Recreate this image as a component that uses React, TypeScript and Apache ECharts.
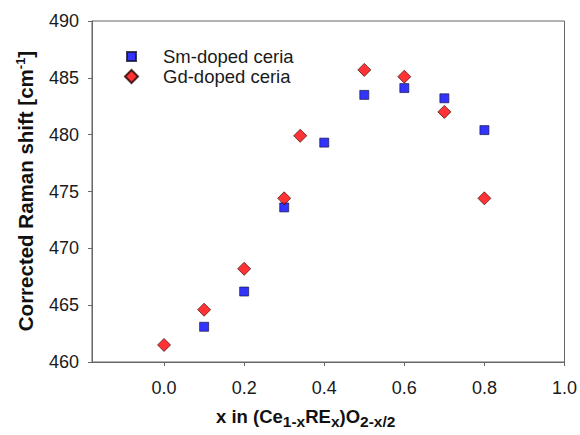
import React, { useEffect, useRef } from "react";
import * as echarts from "echarts";

const smX = [0.1, 0.2, 0.3, 0.4, 0.5, 0.6, 0.7, 0.8];
const smY = [463.1, 466.2, 473.6, 479.3, 483.5, 484.1, 483.2, 480.4];
const gdX = [0.0, 0.1, 0.2, 0.3, 0.34, 0.5, 0.6, 0.7, 0.8];
const gdY = [461.5, 464.6, 468.2, 474.4, 479.9, 485.7, 485.1, 482.0, 474.4];
const xTicks = [0, 0.2, 0.4, 0.6, 0.8, 1.0];
const seriesNames = ["Sm-doped ceria", "Gd-doped ceria"];

const FONT = "Liberation Sans, Arial, sans-serif";

export default function App() {
  const ref = useRef<HTMLDivElement>(null);
  useEffect(() => {
    if (!ref.current) return;
    const chart = echarts.init(ref.current, null, { renderer: "svg" });
    const axisColor = "#666666";
    chart.setOption({
      animation: false,
      backgroundColor: "#ffffff",
      textStyle: { fontFamily: FONT },
      grid: {
        left: 92,
        top: 21,
        right: 14,
        bottom: 73,
        show: true,
        borderColor: axisColor,
        borderWidth: 1,
      },
      legend: [
        {
          data: [seriesNames[0]],
          left: 126,
          top: 47,
          padding: 0,
          itemWidth: 9,
          itemHeight: 9,
          textStyle: { fontSize: 18.5, color: "#1a1a1a", fontFamily: FONT, padding: [0, 0, 0, 22] },
        },
        {
          data: [seriesNames[1]],
          left: 124,
          top: 67,
          padding: 0,
          itemWidth: 13,
          itemHeight: 13,
          textStyle: { fontSize: 18.5, color: "#1a1a1a", fontFamily: FONT, padding: [0, 0, 0, 20] },
        },
      ],
      xAxis: {
        type: "value",
        min: -0.18,
        max: 1.0,
        axisLine: { show: true, onZero: false, lineStyle: { color: axisColor, width: 1 } },
        axisTick: { show: true, length: 4, customValues: xTicks, lineStyle: { color: axisColor } },
        axisLabel: {
          customValues: xTicks,
          formatter: (v: number) => v.toFixed(1),
          fontSize: 18,
          color: "#1a1a1a",
          margin: 17,
          fontFamily: FONT,
        },
        splitLine: { show: false },
      },
      yAxis: {
        type: "value",
        min: 460,
        max: 490,
        interval: 5,
        axisLine: { show: true, onZero: false, lineStyle: { color: axisColor, width: 1 } },
        axisTick: { show: true, length: 4, lineStyle: { color: axisColor } },
        axisLabel: { fontSize: 18, color: "#1a1a1a", margin: 13, fontFamily: FONT },
        splitLine: { show: false },
      },
      series: [
        {
          name: seriesNames[0],
          type: "scatter",
          symbol: "rect",
          symbolSize: 9,
          itemStyle: { color: "#0000ff", borderColor: "#101030", borderWidth: 0.8 },
          data: smX.map((x, i) => [x, smY[i]]),
          z: 2,
        },
        {
          name: seriesNames[1],
          type: "scatter",
          symbol: "diamond",
          symbolSize: 13,
          itemStyle: { color: "#ff0000", borderColor: "#200000", borderWidth: 0.8 },
          data: gdX.map((x, i) => [x, gdY[i]]),
          z: 3,
        },
      ],
      graphic: [
        {
          type: "text",
          left: 216,
          top: 407,
          style: {
            text: "{b|x in (Ce}{s|1-x}{b|RE}{s|x}{b|)O}{s|2-x/2}",
            fill: "#111",
            rich: {
              b: { fontSize: 18.5, fontWeight: "bold", fontFamily: FONT, fill: "#111" },
              s: { fontSize: 15.5, fontWeight: "bold", fontFamily: FONT, fill: "#111", padding: [9, 0, 0, 0] },
            },
          },
        },
        {
          type: "text",
          x: 25,
          y: 191,
          rotation: Math.PI / 2,
          style: {
            text: "{b|Corrected Raman shift [cm}{p|-1}{b|]}",
            align: "center",
            verticalAlign: "middle",
            fill: "#111",
            rich: {
              b: { fontSize: 20.5, fontWeight: "bold", fontFamily: FONT, fill: "#111" },
              p: { fontSize: 13, fontWeight: "bold", fontFamily: FONT, fill: "#111", padding: [0, 0, 10, 0] },
            },
          },
        },
      ],
    });
    return () => chart.dispose();
  }, []);
  return (
    <div
      ref={ref}
      style={{ width: 580, height: 435, position: "fixed", left: 0, top: 0 }}
    />
  );
}
